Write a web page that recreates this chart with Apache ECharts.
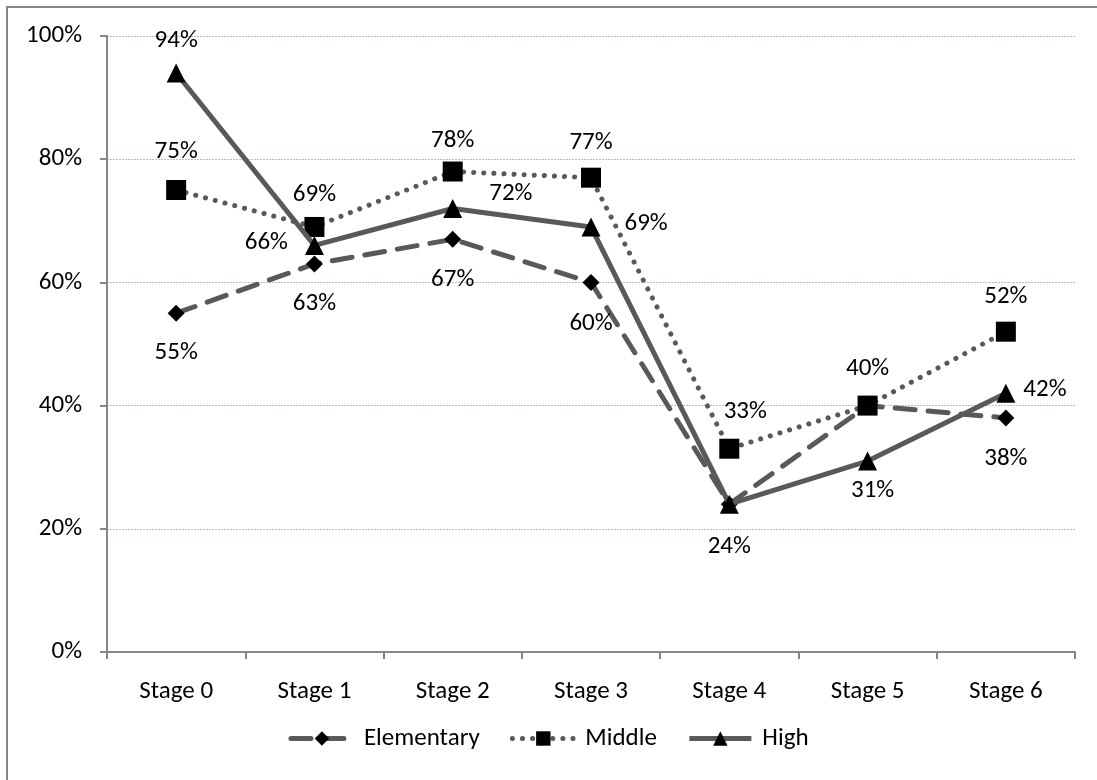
<!DOCTYPE html>
<html>
<head>
<meta charset="utf-8">
<script src="https://cdn.jsdelivr.net/npm/echarts@6/dist/echarts.min.js"></script>
<style>
  html, body { margin: 0; padding: 0; background: #fff; }
  #chart { width: 1097px; height: 780px; }
</style>
</head>
<body>
<div id="chart"></div>
<script>
// Category axis and tick labels
const stages = ['Stage 0', 'Stage 1', 'Stage 2', 'Stage 3', 'Stage 4', 'Stage 5', 'Stage 6'];
const yTicks = [0, 20, 40, 60, 80, 100];

// Percentages per school level
const elementary = [55, 63, 67, 60, 24, 40, 38];
const middle = [75, 69, 78, 77, 33, 40, 52];
const high = [94, 66, 72, 69, 24, 31, 42];

// Where each value label sits (null = no label)
const elementaryLabelPos = ['bottom', 'bottom', 'bottom', 'bottom', null, null, 'bottom'];
const middleLabelPos = ['top', 'top', 'top', 'top', 'top', 'top', 'top'];
const highLabelPos = ['top', 'left', 'right', 'right', 'bottom', 'bottom', 'right'];

const FONT = 'Carlito, Lato, "Open Sans", sans-serif';
const FS = 25;
const LINE = '#595959';

function points(values, positions, extra) {
  return values.map((v, i) => {
    const p = positions[i];
    const lbl = p ? Object.assign({ show: true, position: p }, (extra && extra[i]) || {}) : { show: false };
    return { value: v, label: lbl };
  });
}

const chart = echarts.init(document.getElementById('chart'), null, { renderer: 'canvas' });

const labelBase = {
  show: true,
  formatter: p => p.value + '%',
  color: '#000',
  fontFamily: FONT,
  fontSize: FS,
  distance: 14
};

chart.setOption({
  animation: false,
  backgroundColor: '#fff',
  graphic: [{
    type: 'rect',
    shape: { x: 7, y: 7, width: 1200, height: 900 },
    style: { fill: 'none', stroke: '#868686', lineWidth: 2 },
    silent: true
  }],
  grid: { left: 107, right: 22, top: 36, bottom: 128, containLabel: false },
  legend: {
    bottom: 24,
    left: 'center',
    itemWidth: 62,
    itemHeight: 18,
    itemGap: 30,
    lineStyle: { width: 5 },
    textStyle: { fontFamily: FONT, fontSize: FS, color: '#000', padding: [0, 0, 0, 6] },
    data: ['Elementary', 'Middle', 'High']
  },
  xAxis: {
    type: 'category',
    data: stages,
    boundaryGap: true,
    axisLine: { lineStyle: { color: '#868686', width: 2 } },
    axisTick: { show: true, alignWithLabel: false, length: 7, lineStyle: { color: '#868686', width: 2 } },
    axisLabel: { color: '#000', fontFamily: FONT, fontSize: FS, margin: 27 }
  },
  yAxis: {
    type: 'value',
    min: 0,
    max: 100,
    interval: 20,
    axisLine: { show: true, lineStyle: { color: '#868686', width: 2 } },
    axisTick: { show: true, length: 7, lineStyle: { color: '#868686', width: 2 } },
    axisLabel: {
      color: '#000', fontFamily: FONT, fontSize: FS, margin: 25,
      formatter: v => yTicks.includes(v) ? v + '%' : ''
    },
    splitLine: { show: true, lineStyle: { color: '#a9bfdc', width: 1, type: [2, 1] } }
  },
  series: [
    {
      name: 'Elementary',
      type: 'line',
      data: points(elementary, elementaryLabelPos, { 0: { distance: 19 }, 1: { distance: 19 }, 2: { distance: 19 }, 3: { distance: 20 }, 6: { distance: 20 } }),
      symbol: 'diamond',
      symbolSize: 17,
      itemStyle: { color: '#000' },
      lineStyle: { color: LINE, width: 5, type: [20, 13], cap: 'round' },
      label: labelBase,
      z: 2
    },
    {
      name: 'Middle',
      type: 'line',
      data: points(middle, middleLabelPos, { 0: { distance: 16 }, 1: { distance: 10 }, 2: { distance: 8 }, 3: { distance: 12 }, 4: { distance: 14, offset: [16, 0] }, 5: { distance: 14 }, 6: { distance: 12 } }),
      symbol: 'rect',
      symbolSize: 20,
      itemStyle: { color: '#000' },
      lineStyle: { color: LINE, width: 5, type: [0.1, 10], cap: 'round' },
      label: labelBase,
      z: 3
    },
    {
      name: 'High',
      type: 'line',
      data: points(high, highLabelPos, {
        0: { distance: 10 },
        1: { distance: 17, offset: [0, -3] },
        2: { distance: 14, offset: [13, -15] },
        3: { distance: 12, offset: [12, -3] },
        4: { distance: 21 },
        5: { distance: 8, offset: [5, 0] },
        6: { distance: 8, offset: [0, -4] }
      }),
      symbol: 'triangle',
      symbolSize: 19,
      itemStyle: { color: '#000' },
      lineStyle: { color: LINE, width: 5, type: 'solid' },
      label: labelBase,
      z: 4
    }
  ]
});
</script>
</body>
</html>
